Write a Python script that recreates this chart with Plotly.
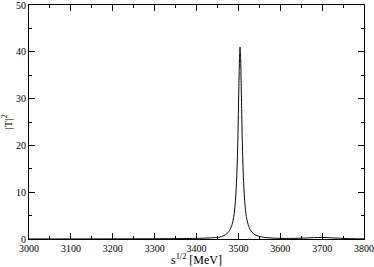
import plotly.graph_objects as go

energy = [3000, 3050, 3100, 3150, 3200, 3250, 3300, 3350, 3400, 3420, 3440, 3450,
          3460, 3470, 3475, 3480, 3485, 3488, 3490, 3492, 3494, 3496, 3497, 3498,
          3499, 3500, 3501, 3502, 3503, 3504, 3505, 3506, 3507, 3508, 3509, 3510,
          3511, 3512, 3514, 3516, 3518, 3520, 3524, 3528, 3533, 3540, 3550, 3560,
          3580, 3600, 3620, 3640, 3660, 3680, 3690, 3700, 3720, 3740, 3760, 3780, 3800]
t2 = [0.01, 0.01, 0.02, 0.02, 0.03, 0.04, 0.05, 0.08, 0.13, 0.18, 0.28, 0.36,
      0.5, 0.95, 1.35, 2.0, 3.1, 4.3, 5.4, 7.1, 9.5, 13.1, 15.6, 18.7,
      22.4, 26.8, 31.6, 36.2, 39.7, 41.0, 39.7, 36.2, 31.6, 26.8, 22.4, 18.7,
      15.6, 13.1, 9.5, 7.1, 5.4, 4.3, 2.9, 2.0, 1.4, 0.9, 0.55, 0.37,
      0.2, 0.14, 0.12, 0.14, 0.2, 0.3, 0.33, 0.33, 0.27, 0.17, 0.09, 0.05, 0.03]

x_ticks = [3000, 3100, 3200, 3300, 3400, 3500, 3600, 3700, 3800]
y_ticks = [0, 10, 20, 30, 40, 50]

fig = go.Figure()
fig.add_trace(go.Scatter(x=energy, y=t2, mode="lines",
                         line=dict(color="black", width=1, shape="spline", smoothing=0.6),
                         showlegend=False, hoverinfo="skip"))

font = dict(family="Liberation Serif", color="black")
axis_common = dict(showgrid=False, zeroline=False, showline=True, linecolor="black",
                   linewidth=1, mirror="allticks", ticks="inside", ticklen=6,
                   tickcolor="black", tickwidth=1, tickfont=dict(size=10, **font),
                   automargin=False, ticklabeloverflow="allow")

fig.update_xaxes(range=[3000, 3800], tickvals=x_ticks, ticktext=[str(v) for v in x_ticks],
                 minor=dict(dtick=50, ticks="inside", ticklen=3, tickcolor="black"),
                 title=dict(text="s<sup>1/2</sup> [MeV]", font=dict(size=12, **font), standoff=0),
                 ticklabelstandoff=0,
                 **axis_common)
fig.update_yaxes(range=[0, 50], tickvals=y_ticks, ticktext=[str(v) for v in y_ticks],
                 minor=dict(dtick=5, ticks="inside", ticklen=3, tickcolor="black"),
                 title=dict(text="|T|<sup>2</sup>", font=dict(size=11, **font), standoff=4),
                 **axis_common)

fig.update_layout(width=374, height=267, margin=dict(l=29, r=10, t=5, b=28),
                  plot_bgcolor="white", paper_bgcolor="white")
fig.write_html("out.html", config={"displayModeBar": False, "staticPlot": True},
               post_script="document.body.style.margin='0';document.body.style.padding='0';")
